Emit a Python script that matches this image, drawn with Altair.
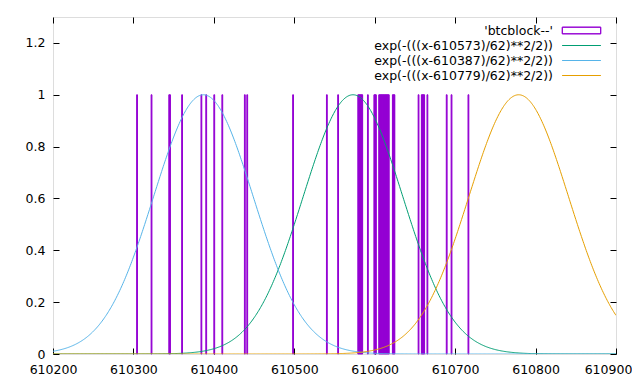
import altair as alt
import pandas as pd

# ---- data ----
blocks = [
    610304, 610322, 610344, 610345, 610360, 610384, 610390, 610400, 610410,
    610438, 610441, 610498, 610540, 610554,
    610579, 610580, 610581, 610582, 610583, 610584,
    610591,
    610599, 610600, 610601,
    610605, 610606, 610607, 610608, 610609, 610610, 610611, 610612, 610613,
    610614, 610615, 610616, 610617,
    610622, 610623, 610624,
    610654, 610658, 610659, 610660, 610661, 610665, 610689, 610695, 610716,
]
block_heights = [1] * len(blocks)

series_labels = [
    "'btcblock--'",
    "exp(-(((x-610573)/62)**2/2))",
    "exp(-(((x-610387)/62)**2/2))",
    "exp(-(((x-610779)/62)**2/2))",
]
series_colors = ["#9400D3", "#009E73", "#56B4E9", "#E69F00"]
gauss_means = [610573, 610387, 610779]
gauss_sigma = 62

x_ticks = [610200, 610300, 610400, 610500, 610600, 610700, 610800, 610900]
y_ticks = [0, 0.2, 0.4, 0.6, 0.8, 1, 1.2]
x_domain = [610200, 610900]
y_domain = [0, 1.3]

FONT = "DejaVu Sans"

bars_df = pd.DataFrame({
    "block": blocks,
    "h": block_heights,
    "series": [series_labels[0]] * len(blocks),
})

# legend key shapes (symbol size 144 -> unit = 6 px); zero-area segments draw stroke only
BOX = ("M-3.2,-0.55H3.2H-3.2Z M-3.2,0.55H3.2H-3.2Z "
       "M-3.2,-0.55V0.55V-0.55Z M3.2,-0.55V0.55V-0.55Z")
LINE = "M-3.2,0H3.2H-3.2Z"

color = alt.Color(
    "series:N",
    scale=alt.Scale(domain=series_labels, range=series_colors),
    legend=alt.Legend(
        title=None,
        orient="none",
        legendX=270,
        legendY=7,
        padding=0,
        labelFont=FONT,
        labelFontSize=12.5,
        labelColor="black",
        labelAlign="right",
        labelOffset={"expr": "-35"},
        labelLimit=400,
        symbolOffset=252,
        symbolSize=144,
        symbolStrokeWidth=1,
        symbolType={"expr": f"datum.index === 0 ? '{BOX}' : '{LINE}'"},
        rowPadding=2,
    ),
)

xs = alt.Scale(domain=x_domain, nice=False, zero=False)
ys = alt.Scale(domain=y_domain, nice=False)

bars = alt.Chart(bars_df).transform_calculate(
    block_end="datum.block + 1"
).mark_rect(stroke="#9400D3", strokeWidth=1).encode(
    x=alt.X("block:Q", scale=xs, axis=alt.Axis(
        orient="top", values=x_ticks, labels=False, domain=False, grid=False,
        tickSize=6, offset=-6, tickColor="black", title=None)),
    x2="block_end:Q",
    y=alt.Y("h:Q", scale=ys, axis=alt.Axis(
        orient="right", values=y_ticks, labels=False, domain=False, grid=False,
        tickSize=6, offset=-6, tickColor="black", title=None)),
    y2=alt.Y2(datum=0),
    color=color,
)

fold_keys = [f"g{i}" for i in range(len(gauss_means))]
calc = {
    k: f"exp(-pow((datum.x - {mu}) / {gauss_sigma}, 2) / 2)"
    for k, mu in zip(fold_keys, gauss_means)
}
label_expr = " : ".join(
    f"datum.key === '{k}' ? '{lab}'" for k, lab in zip(fold_keys, series_labels[1:])
) + " : ''"

lines = alt.Chart(alt.sequence(x_domain[0], x_domain[1] + 1, 1, as_="x")).transform_calculate(
    **calc
).transform_fold(fold_keys, as_=["key", "val"]).transform_calculate(
    series=label_expr
).mark_line(strokeWidth=1, clip=True).encode(
    x=alt.X("x:Q", scale=xs, axis=alt.Axis(
        orient="bottom", values=x_ticks, format="d", domain=False, grid=False,
        tickSize=6, offset=-6, tickColor="black", labelPadding=9,
        labelFont=FONT, labelFontSize=12.5, labelColor="black", labelFlush=False,
        labelOffset={"condition": {"test": f"datum.value === {x_ticks[-1]}", "value": -8}, "value": 0},
        title=None)),
    y=alt.Y("val:Q", scale=ys, axis=alt.Axis(
        orient="left", values=y_ticks, format="~g", domain=False, grid=False,
        tickSize=6, offset=-6, tickColor="black", labelPadding=8,
        labelFont=FONT, labelFontSize=12.5, labelColor="black", labelFlush=False,
        title=None)),
    color=color,
    detail="key:N",
)

chart = alt.layer(bars, lines).resolve_axis(
    x="independent", y="independent"
).properties(
    width=563,
    height=337,
    autosize=alt.AutoSizeParams(type="none"),
    padding={"left": 45, "top": 9, "right": 16, "bottom": 21},
    background="white",
).configure_view(
    stroke="black", strokeWidth=1
).configure(font=FONT)

chart.save("out.html", embed_options={"renderer": "svg", "actions": False})
